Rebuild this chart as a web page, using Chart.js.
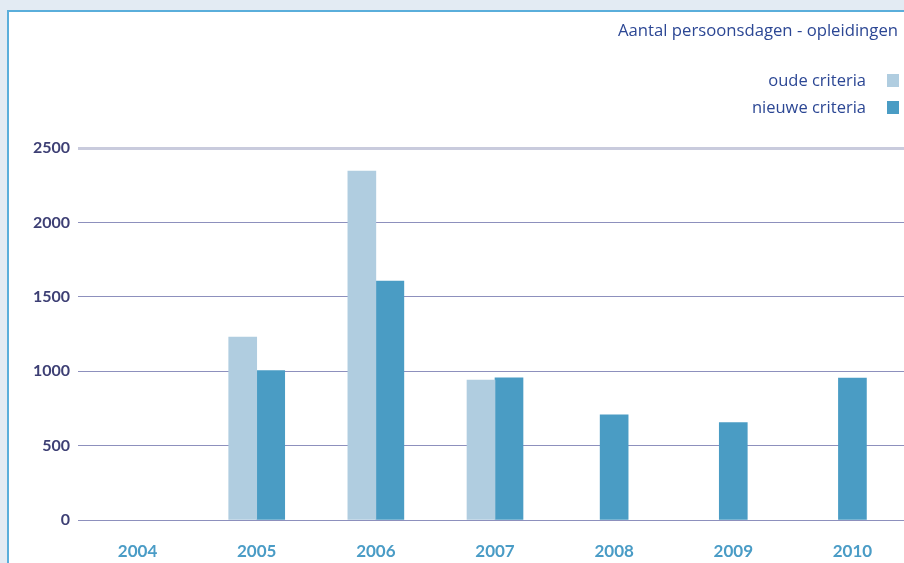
<!DOCTYPE html>
<html>
<head>
<meta charset="utf-8">
<script src="https://cdn.jsdelivr.net/npm/chart.js@4/dist/chart.umd.min.js"></script>
<style>
  html, body { margin: 0; padding: 0; width: 904px; height: 563px; overflow: hidden; background: #e3ebf3; }
  #panel { position: absolute; left: 7px; top: 10px; width: 1000px; height: 700px; background: #fff;
           border-left: 2px solid #5aaedb; border-top: 2px solid #5aaedb; }
  #wrap { position: absolute; left: 0; top: 0; width: 912px; height: 563px; }
  #title { position: absolute; right: 6px; top: 18px; font: 16.7px "Open Sans", sans-serif; color: #2c4794; white-space: nowrap; }
  #legend { position: absolute; right: 5px; top: 69px; font: 16.5px "Open Sans", sans-serif; color: #2c4794; }
  #legend div { height: 27px; line-height: 22px; text-align: right; white-space: nowrap; }
  #legend span.box { display: inline-block; width: 12px; height: 13px; margin-left: 21px; vertical-align: -1px; }
</style>
</head>
<body>
<div id="panel"></div>
<div id="wrap"><canvas id="chart" width="912" height="563"></canvas></div>
<div id="title"></div>
<div id="legend"></div>
<script>
// Aantal persoonsdagen - opleidingen
const titleText = 'Aantal persoonsdagen - opleidingen';
const years = ['2004', '2005', '2006', '2007', '2008', '2009', '2010'];
const oudeCriteria = [null, 1230, 2345, 940, null, null, null];
const nieuweCriteria = [null, 1005, 1606, 955, 706, 654, 954];
const yTicks = [0, 500, 1000, 1500, 2000, 2500];

const seriesNames = ['oude criteria', 'nieuwe criteria'];
const seriesColors = ['#b0cde0', '#4a9cc4'];

function buildLegend() {
    document.getElementById('title').textContent = titleText;
    const legend = document.getElementById('legend');
    seriesNames.forEach((name, i) => {
        const row = document.createElement('div');
        row.textContent = name;
        const box = document.createElement('span');
        box.className = 'box';
        box.style.background = seriesColors[i];
        row.appendChild(box);
        legend.appendChild(row);
    });
}

function init() {
    buildLegend();
    const ctx = document.getElementById('chart').getContext('2d');
    new Chart(ctx, {
        type: 'bar',
        data: {
            labels: years,
            datasets: [
                { label: seriesNames[0], data: oudeCriteria, backgroundColor: seriesColors[0], skipNull: true, barThickness: 28, borderWidth: 0 },
                { label: seriesNames[1], data: nieuweCriteria, backgroundColor: seriesColors[1], skipNull: true, barThickness: 28, borderWidth: 0 },
            ]
        },
        options: {
            responsive: false,
            animation: false,
            layout: { padding: { top: 148, left: 0, right: 0, bottom: 0 } },
            plugins: {
                legend: { display: false },
                tooltip: { enabled: false },
            },
            scales: {
                x: {
                    offset: true,
                    grid: { display: false },
                    border: { display: false },
                    ticks: {
                        color: '#4a9cc6',
                        font: { family: 'Lato', size: 17, weight: 'bold' },
                        padding: 13,
                        maxRotation: 0,
                    },
                    afterFit: (scale) => { scale.height = 43; },
                },
                y: {
                    min: 0,
                    max: 2500,
                    afterBuildTicks: (scale) => { scale.ticks = yTicks.map(v => ({ value: v })); },
                    border: { display: false },
                    grid: {
                        drawTicks: false,
                        color: (c) => c.tick && c.tick.value === 2500 ? '#c9cbdd' : '#8d90bd',
                        lineWidth: (c) => c.tick && c.tick.value === 2500 ? 3 : 1,
                    },
                    ticks: {
                        color: '#3d3f74',
                        font: { family: 'Lato', size: 16, weight: 'bold' },
                        padding: 8,
                        callback: (v) => String(v),
                    },
                    afterFit: (scale) => { scale.width = 78; },
                },
            },
        },
    });
}

document.addEventListener('DOMContentLoaded', init);
</script>
</body>
</html>
